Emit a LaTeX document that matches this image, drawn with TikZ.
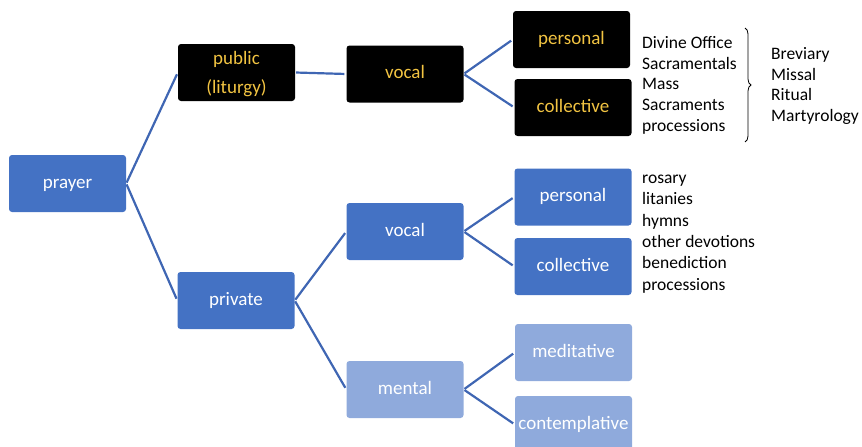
\documentclass[tikz,border=0pt]{standalone}
\usepackage{fontspec}
\setmainfont{Carlito}
\usetikzlibrary{decorations.pathreplacing}
\definecolor{dkblue}{HTML}{4472C4}
\definecolor{ltblue}{HTML}{8FAADC}
\definecolor{goldtext}{HTML}{F2C442}
\definecolor{linec}{HTML}{3F66B3}
\begin{document}
\begin{tikzpicture}[x=1pt,y=-1pt,
  box/.style={rounded corners=3pt, minimum width=117pt, minimum height=57pt, inner sep=0pt,
    font=\fontsize{19}{23}\selectfont, align=center, text height=12pt, text depth=3pt},
  blk/.style={box, fill=black, text=goldtext},
  dk/.style={box, fill=dkblue, text=white},
  lt/.style={box, fill=ltblue, text=white},
  conn/.style={draw=linec, line width=2.2pt, shorten >=2pt, shorten <=1pt},
  lst/.style={anchor=north west, inner sep=0pt, align=left, text=black}]
\useasboundingbox (0,0) rectangle (862,447);

\node[dk] (prayer) at (67.5,183.5) {prayer};
\node[blk, text height=, text depth=, font=\fontsize{19}{29}\selectfont] (public) at (236.5,72.5) {\rule{0pt}{17pt}public\\(liturgy)};
\node[blk] (pvocal) at (405,74) {vocal};
\node[blk] (ppers) at (571.5,39.5) {personal};
\node[blk] (pcoll) at (573,107.5) {collective};
\node[dk] (private) at (236,300.5) {private};
\node[dk] (vvocal) at (405,231.5) {vocal};
\node[dk] (vpers) at (573,197) {personal};
\node[dk] (vcoll) at (573,266.5) {collective};
\node[lt] (mental) at (405,389.5) {mental};
\node[lt] (medit) at (573.5,352.5) {meditative};
\node[lt] (contem) at (573.5,424.5) {contemplative};

\draw[conn] (prayer.east) -- (public.west);
\draw[conn] (prayer.east) -- (private.west);
\draw[conn] (public.east) -- (pvocal.west);
\draw[conn] (pvocal.east) -- (ppers.west);
\draw[conn] (pvocal.east) -- (pcoll.west);
\draw[conn] (private.east) -- (vvocal.west);
\draw[conn] (private.east) -- (mental.west);
\draw[conn] (vvocal.east) -- (vpers.west);
\draw[conn] (vvocal.east) -- (vcoll.west);
\draw[conn] (mental.east) -- (medit.west);
\draw[conn] (mental.east) -- (contem.west);

\node[lst, font=\fontsize{17.5}{20.6}\selectfont] (list1) at (642,34.1)
  {\strut Divine Office\\Sacramentals\\Mass\\Sacraments\\processions};
\node[lst, font=\fontsize{17.5}{20.6}\selectfont] (books) at (771,45.1)
  {\strut Breviary\\Missal\\Ritual\\Martyrology};
\node[lst, font=\fontsize{17.5}{21.4}\selectfont] (list2) at (642,168.1)
  {\strut rosary\\litanies\\hymns\\other devotions\\benediction\\processions};

\coordinate (bt) at (745,28);
\coordinate (bb) at (745,142);
\draw[black, line width=0.8pt, decorate, decoration={brace, amplitude=6pt}] (bt) -- (bb);
\end{tikzpicture}
\end{document}
